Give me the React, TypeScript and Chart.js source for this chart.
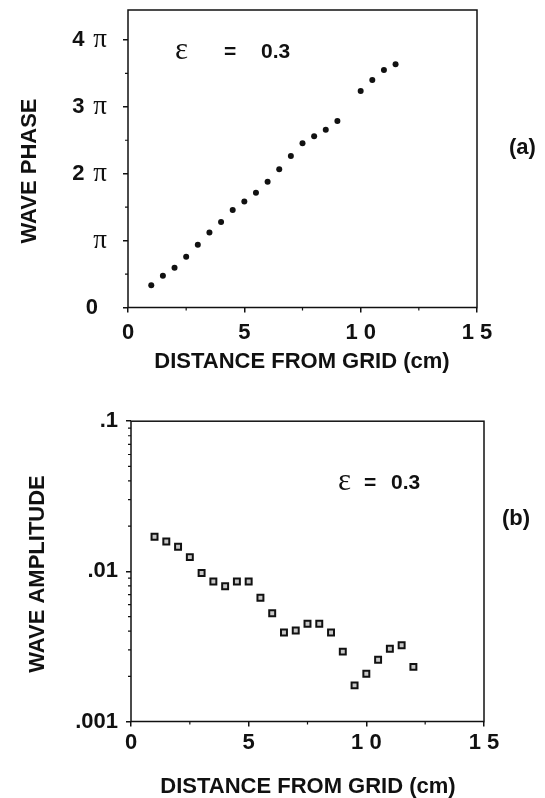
import React, { useEffect, useRef } from "react";
import { Chart, registerables } from "chart.js";

Chart.register(...registerables);

// ---------- data ----------
const distanceA = [1, 1.5, 2, 2.5, 3, 3.5, 4, 4.5, 5, 5.5, 6, 6.5, 7, 7.5, 8, 8.5, 9, 10, 10.5, 11, 11.5];
// wave phase, in units of pi
const phasePi = [0.334, 0.474, 0.594, 0.758, 0.938, 1.122, 1.277, 1.456, 1.586, 1.716, 1.88, 2.065, 2.264, 2.454, 2.559, 2.658, 2.788, 3.237, 3.401, 3.551, 3.636];

const distanceB = [1, 1.5, 2, 2.5, 3, 3.5, 4, 4.5, 5, 5.5, 6, 6.5, 7, 7.5, 8, 8.5, 9, 9.5, 10, 10.5, 11, 11.5, 12];
const amplitude = [0.017, 0.0158, 0.0146, 0.01244, 0.00975, 0.00855, 0.00796, 0.00855, 0.00855, 0.00667, 0.00526, 0.00392, 0.00404, 0.00448, 0.00448, 0.00392, 0.00292, 0.00174, 0.00208, 0.00258, 0.00305, 0.00322, 0.00231];

const xTicks = [0, 5, 10, 15];
const xTickLabels = ["0", "5", "1 0", "1 5"];
const xMinorTicks = [2.5, 7.5, 12.5];

const phaseTicksPi = [0, 1, 2, 3, 4];
const phaseTickLabels = ["0", "π", "2 π", "3 π", "4 π"];
const phaseMinorPi = [0.5, 1.5, 2.5, 3.5];

const ampTicks = [0.001, 0.01, 0.1];
const ampTickLabels = [".001", ".01", ".1"];
const ampMinorTicks = [0.002, 0.003, 0.004, 0.005, 0.006, 0.007, 0.008, 0.009, 0.02, 0.03, 0.04, 0.05, 0.06, 0.07, 0.08, 0.09];

const xTitle = "DISTANCE FROM GRID (cm)";
const yTitleA = "WAVE PHASE";
const yTitleB = "WAVE AMPLITUDE";
const epsSymbol = "ε";
const epsValue = "0.3";

// ---------- style ----------
const INK = "#111111";
const SANS = '"Liberation Sans", Arial, Helvetica, sans-serif';
const SERIF = '"Liberation Serif", "Times New Roman", serif';

type Txt = {
  xTitleX: number; xTitleY: number;
  yTitleX: number; yTitleY: number; yTitle: string;
  epsX: number; eqX: number; valX: number; epsY: number;
  panelX: number; panelY: number; panel: string;
};

function decorPlugin(xMinor: number[], yMinor: number[], t: Txt, customPhaseLabels: boolean) {
  return {
    id: "decor",
    afterDraw(chart: any) {
      const ctx: CanvasRenderingContext2D = chart.ctx;
      const { left, right, top, bottom } = chart.chartArea;
      const xs = chart.scales.x;
      const ys = chart.scales.y;
      ctx.save();
      // frame
      ctx.strokeStyle = INK;
      ctx.lineWidth = 1.5;
      ctx.strokeRect(left, top, right - left, bottom - top);
      // minor ticks (outward)
      ctx.lineWidth = 1.2;
      ctx.beginPath();
      for (const v of xMinor) {
        const px = xs.getPixelForValue(v);
        ctx.moveTo(px, bottom);
        ctx.lineTo(px, bottom + 3);
      }
      for (const v of yMinor) {
        const py = ys.getPixelForValue(v);
        ctx.moveTo(left, py);
        ctx.lineTo(left - 3, py);
      }
      ctx.stroke();

      ctx.fillStyle = INK;
      // custom phase tick labels (sans digit + serif pi)
      if (customPhaseLabels) {
        const piRight = left - 21;
        ys.ticks.forEach((tk: any, i: number) => {
          const label = phaseTickLabels[i];
          const py = ys.getPixelForValue(tk.value);
          ctx.textBaseline = "middle";
          ctx.textAlign = "right";
          if (label.includes("π")) {
            ctx.font = `27px ${SERIF}`;
            ctx.fillText("π", piRight, py);
            const w = ctx.measureText("π").width;
            const num = label.replace("π", "").trim();
            if (num) {
              ctx.font = `bold 22px ${SANS}`;
              ctx.fillText(num, piRight - w - 9, py);
            }
          } else {
            ctx.font = `bold 22px ${SANS}`;
            ctx.fillText(label, piRight - 9, py);
          }
        });
      }

      // axis titles
      ctx.font = `bold 22px ${SANS}`;
      ctx.textAlign = "center";
      ctx.textBaseline = "middle";
      ctx.fillText(xTitle, t.xTitleX, t.xTitleY);
      ctx.save();
      ctx.translate(t.yTitleX, t.yTitleY);
      ctx.rotate(-Math.PI / 2);
      ctx.font = `bold 22px ${SANS}`;
      ctx.fillText(t.yTitle, 0, 0);
      ctx.restore();

      // epsilon annotation
      ctx.textAlign = "left";
      ctx.font = `31px ${SERIF}`;
      ctx.fillText(epsSymbol, t.epsX, t.epsY - 1);
      ctx.font = `bold 21px ${SANS}`;
      ctx.fillText("=", t.eqX, t.epsY);
      ctx.fillText(epsValue, t.valX, t.epsY);

      // panel label
      ctx.font = `bold 22px ${SANS}`;
      ctx.fillText(t.panel, t.panelX, t.panelY);
      ctx.restore();
    },
  };
}

function xScale(height: number, pad: number) {
  return {
    type: "linear" as const,
    min: 0,
    max: 15,
    afterBuildTicks: (s: any) => {
      s.ticks = xTicks.map((v) => ({ value: v }));
    },
    afterFit: (s: any) => {
      s.height = height;
    },
    ticks: {
      color: INK,
      padding: pad,
      font: { family: SANS, size: 22, weight: "bold" as const },
      callback: (_v: any, i: number) => xTickLabels[i],
      maxRotation: 0,
    },
    grid: { drawOnChartArea: false, drawTicks: true, tickLength: 5, color: INK, lineWidth: 1.5 },
    border: { display: false },
  };
}

export default function App() {
  const refA = useRef<HTMLCanvasElement | null>(null);
  const refB = useRef<HTMLCanvasElement | null>(null);

  useEffect(() => {
    const chartA = new Chart(refA.current as HTMLCanvasElement, {
      type: "scatter",
      data: {
        datasets: [
          {
            data: distanceA.map((x, i) => ({ x, y: phasePi[i] })),
            pointStyle: "circle",
            pointRadius: 3,
            pointBackgroundColor: INK,
            pointBorderColor: INK,
            pointBorderWidth: 0,
            showLine: false,
          },
        ],
      },
      options: {
        responsive: false,
        animation: false,
        events: [],
        layout: { padding: { left: 0, right: 68, top: 10, bottom: 0 } },
        plugins: { legend: { display: false }, tooltip: { enabled: false } },
        scales: {
          x: xScale(92.5, 7),
          y: {
            type: "linear",
            min: 0,
            max: 4.447,
            afterBuildTicks: (s: any) => {
              s.ticks = phaseTicksPi.map((v) => ({ value: v }));
            },
            afterFit: (s: any) => {
              s.width = 128;
            },
            ticks: { display: false },
            grid: { drawOnChartArea: false, drawTicks: true, tickLength: 5, color: INK, lineWidth: 1.5 },
            border: { display: false },
          },
        },
      },
      plugins: [
        decorPlugin(xMinorTicks, phaseMinorPi, {
          xTitleX: 302, xTitleY: 362,
          yTitleX: 30, yTitleY: 171, yTitle: yTitleA,
          epsX: 175, eqX: 224, valX: 261, epsY: 52,
          panelX: 509, panelY: 148, panel: "(a)",
        }, true),
      ],
    });

    const chartB = new Chart(refB.current as HTMLCanvasElement, {
      type: "scatter",
      data: {
        datasets: [
          {
            data: distanceB.map((x, i) => ({ x, y: amplitude[i] })),
            pointStyle: "rect",
            pointRadius: 4.2,
            pointBackgroundColor: "#c8c8c8",
            pointBorderColor: INK,
            pointBorderWidth: 2,
            showLine: false,
          },
        ],
      },
      options: {
        responsive: false,
        animation: false,
        events: [],
        layout: { padding: { left: 0, right: 61, top: 18, bottom: 0 } },
        plugins: { legend: { display: false }, tooltip: { enabled: false } },
        scales: {
          x: xScale(76.5, 3),
          y: {
            type: "logarithmic",
            min: 0.001,
            max: 0.1,
            afterBuildTicks: (s: any) => {
              s.ticks = ampTicks.map((v) => ({ value: v }));
            },
            afterFit: (s: any) => {
              s.width = 131;
            },
            ticks: {
              color: INK,
              padding: 8,
              font: { family: SANS, size: 22, weight: "bold" },
              callback: (_v: any, i: number) => ampTickLabels[i],
            },
            grid: { drawOnChartArea: false, drawTicks: true, tickLength: 5, color: INK, lineWidth: 1.5 },
            border: { display: false },
          },
        },
      },
      plugins: [
        decorPlugin(xMinorTicks, ampMinorTicks, {
          xTitleX: 308, xTitleY: 387,
          yTitleX: 38, yTitleY: 174, yTitle: yTitleB,
          epsX: 338, eqX: 364, valX: 391, epsY: 83,
          panelX: 502, panelY: 119, panel: "(b)",
        }, false),
      ],
    });

    return () => {
      chartA.destroy();
      chartB.destroy();
    };
  }, []);

  return (
    <div style={{ position: "absolute", left: 0, top: 0, width: 545, height: 798, background: "#ffffff" }}>
      <canvas ref={refA} width={545} height={400} style={{ position: "absolute", left: 0, top: 0 }} />
      <canvas ref={refB} width={545} height={398} style={{ position: "absolute", left: 0, top: 400 }} />
    </div>
  );
}
